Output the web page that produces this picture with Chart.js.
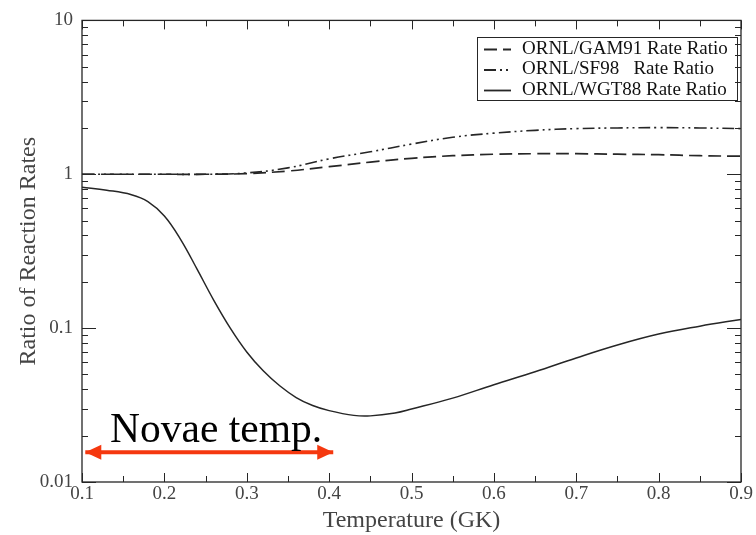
<!DOCTYPE html>
<html>
<head>
<meta charset="utf-8">
<script src="https://cdn.jsdelivr.net/npm/chart.js@4.4.1/dist/chart.umd.min.js"></script>
<style>
  html, body { margin: 0; padding: 0; background: #fff; }
</style>
</head>
<body>
<canvas id="ratioChart" width="756" height="535"></canvas>
<script>
// ORNL/WGT88 rate ratio (solid)
const wgtTemps = [0.10, 0.13, 0.16, 0.18, 0.20, 0.22, 0.24, 0.26, 0.28, 0.30, 0.32, 0.34, 0.36, 0.38,
                  0.40, 0.43, 0.45, 0.48, 0.50, 0.55, 0.60, 0.65, 0.70, 0.75, 0.80, 0.85, 0.90];
const wgtRatio = [0.824, 0.788, 0.737, 0.665, 0.536, 0.375, 0.240, 0.1516, 0.100, 0.070, 0.0528, 0.0422, 0.0354, 0.0314,
                  0.0291, 0.0271, 0.0269, 0.0281, 0.0298, 0.0351, 0.0429, 0.052, 0.064, 0.0777, 0.0915, 0.103, 0.114];

// ORNL/GAM91 and ORNL/SF98 rate ratios
const cmpTemps = [0.10, 0.15, 0.20, 0.25, 0.30, 0.35, 0.40, 0.45, 0.50, 0.55, 0.60, 0.65, 0.70, 0.75, 0.80, 0.85, 0.90];
const gamRatio = [1.0, 1.0, 1.0, 1.0, 1.01, 1.05, 1.12, 1.20, 1.27, 1.32, 1.35, 1.36, 1.36, 1.35, 1.34, 1.32, 1.31];
const sfRatio  = [1.0, 1.0, 1.0, 1.0, 1.02, 1.10, 1.26, 1.40, 1.57, 1.74, 1.85, 1.93, 1.98, 2.00, 2.01, 2.00, 1.98];

// axes
const xTickValues = [0.1, 0.2, 0.3, 0.4, 0.5, 0.6, 0.7, 0.8, 0.9];
const xTickLabels = ['0.1', '0.2', '0.3', '0.4', '0.5', '0.6', '0.7', '0.8', '0.9'];
const yTickValues = [0.01, 0.1, 1, 10];
const yTickLabels = ['0.01', '0.1', '1', '10'];

// novae temperature range marker
const novaeTemps = [0.104, 0.405];
const novaeLevel = [0.0156, 0.0156];
const novaeText = 'Novae temp.';
const novaeTextAt = [0.134, 0.0181];

const legendLabels = ['ORNL/GAM91 Rate Ratio', 'ORNL/SF98   Rate Ratio', 'ORNL/WGT88 Rate Ratio'];

const SERIF = "'Liberation Serif', 'DejaVu Serif', serif";
const LINE = '#262626';
const GAM_DASH = [13, 6];
const SF_DASH = [12, 4, 2, 4, 2, 4];

const toPoints = (xs, ys) => xs.map((x, i) => ({ x, y: ys[i] }));

// frame with inward ticks on all four sides
const frameTicks = {
    id: 'frameTicks',
    afterDatasetsDraw(chart) {
        const { ctx, chartArea: a, scales: { x, y } } = chart;
        ctx.save();
        ctx.strokeStyle = LINE;
        ctx.lineWidth = 1.3;
        ctx.strokeRect(a.left, a.top, a.width, a.height);
        ctx.lineWidth = 1;
        ctx.beginPath();
        for (let i = 0; i <= 16; i++) {
            const px = Math.round(x.getPixelForValue(0.1 + i * 0.05)) + 0.5;
            const len = i % 2 === 0 ? 9 : 6;
            ctx.moveTo(px, a.bottom); ctx.lineTo(px, a.bottom - len);
            ctx.moveTo(px, a.top); ctx.lineTo(px, a.top + len);
        }
        for (let d = -2; d <= 0; d++) {
            for (let m = 1; m <= 9; m++) {
                const py = Math.round(y.getPixelForValue(m * Math.pow(10, d))) + 0.5;
                const len = m === 1 ? 14 : 6;
                ctx.moveTo(a.left, py); ctx.lineTo(a.left + len, py);
                ctx.moveTo(a.right, py); ctx.lineTo(a.right - len, py);
            }
        }
        ctx.stroke();
        ctx.restore();
    }
};

// boxed legend with line samples, arrowheads and the novae label
const annotations = {
    id: 'annotations',
    afterDraw(chart) {
        const { ctx, scales: { x, y } } = chart;
        ctx.save();

        // legend
        ctx.strokeStyle = LINE;
        ctx.lineWidth = 1;
        ctx.strokeRect(477.5, 37.5, 260, 63);
        const dashes = [GAM_DASH, SF_DASH, []];
        ctx.font = '19px ' + SERIF;
        ctx.fillStyle = '#111';
        ctx.textBaseline = 'middle';
        legendLabels.forEach((label, i) => {
            const ly = 49 + i * 20.5;
            ctx.setLineDash(dashes[i]);
            ctx.lineWidth = 1.8;
            ctx.beginPath();
            ctx.moveTo(484, ly + 0.5); ctx.lineTo(511, ly + 0.5);
            ctx.stroke();
            ctx.setLineDash([]);
            ctx.fillText(label, 522, ly);
        });

        // arrowheads on the novae range
        const pts = chart.getDatasetMeta(3).data;
        const p0 = pts[0], p1 = pts[pts.length - 1];
        ctx.fillStyle = '#f5380f';
        ctx.beginPath();
        ctx.moveTo(p0.x, p0.y); ctx.lineTo(p0.x + 16, p0.y - 7.5); ctx.lineTo(p0.x + 16, p0.y + 7.5);
        ctx.closePath();
        ctx.moveTo(p1.x, p1.y); ctx.lineTo(p1.x - 16, p1.y - 7.5); ctx.lineTo(p1.x - 16, p1.y + 7.5);
        ctx.closePath();
        ctx.fill();

        ctx.font = '41.5px ' + SERIF;
        ctx.fillStyle = '#000';
        ctx.textBaseline = 'alphabetic';
        ctx.fillText(novaeText, x.getPixelForValue(novaeTextAt[0]), y.getPixelForValue(novaeTextAt[1]));
        ctx.restore();
    }
};

new Chart(document.getElementById('ratioChart'), {
    type: 'line',
    data: {
        datasets: [
            {
                label: legendLabels[0],
                data: toPoints(cmpTemps, gamRatio),
                borderColor: LINE,
                borderWidth: 1.7,
                borderDash: GAM_DASH,
                tension: 0.4,
                pointRadius: 0
            },
            {
                label: legendLabels[1],
                data: toPoints(cmpTemps, sfRatio),
                borderColor: LINE,
                borderWidth: 1.6,
                borderDash: SF_DASH,
                tension: 0.4,
                pointRadius: 0
            },
            {
                label: legendLabels[2],
                data: toPoints(wgtTemps, wgtRatio),
                borderColor: LINE,
                borderWidth: 1.5,
                tension: 0.4,
                pointRadius: 0
            },
            {
                label: 'novae',
                data: toPoints(novaeTemps, novaeLevel),
                borderColor: '#f5380f',
                borderWidth: 4,
                pointRadius: 0
            }
        ]
    },
    options: {
        responsive: false,
        animation: false,
        devicePixelRatio: 1,
        layout: { padding: { top: 17, right: 15, left: 14, bottom: 0 } },
        plugins: { legend: { display: false }, tooltip: { enabled: false } },
        scales: {
            x: {
                type: 'linear',
                min: 0.1,
                max: 0.9,
                afterFit: s => { s.height = 53; },
                afterBuildTicks: s => { s.ticks = xTickValues.map(v => ({ value: v })); },
                grid: { display: false, drawTicks: false },
                border: { display: false },
                ticks: {
                    autoSkip: false,
                    maxRotation: 0,
                    padding: 1,
                    color: '#444',
                    font: { family: SERIF, size: 19 },
                    callback: (v, i) => xTickLabels[i]
                },
                title: {
                    display: true,
                    text: 'Temperature (GK)',
                    color: '#444',
                    font: { family: SERIF, size: 24 },
                    padding: { top: 0, bottom: 0 }
                }
            },
            y: {
                type: 'logarithmic',
                min: 0.01,
                max: 10,
                afterFit: s => { s.width = 68; },
                afterBuildTicks: s => { s.ticks = yTickValues.map(v => ({ value: v })); },
                grid: { display: false, drawTicks: false },
                border: { display: false },
                ticks: {
                    autoSkip: false,
                    padding: 9,
                    color: '#444',
                    font: { family: SERIF, size: 19 },
                    callback: (v, i) => yTickLabels[i]
                },
                title: {
                    display: true,
                    text: 'Ratio of Reaction Rates',
                    color: '#444',
                    font: { family: SERIF, size: 24 },
                    padding: { top: 0, bottom: 0 }
                }
            }
        }
    },
    plugins: [frameTicks, annotations]
});
</script>
</body>
</html>
